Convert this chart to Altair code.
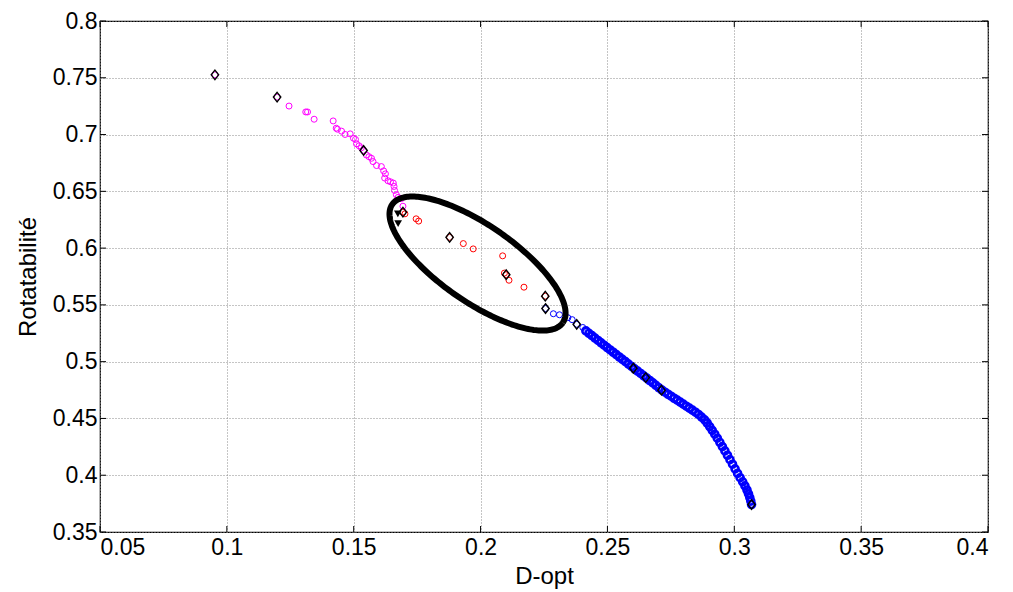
import numpy as np
import pandas as pd
import altair as alt

# ---------------- data ----------------
MAG_X = [0.0953, 0.1198, 0.1245, 0.1311, 0.1318, 0.1344, 0.1419, 0.1431, 0.1436, 0.1452, 0.1466,
         0.1486, 0.1499, 0.1507, 0.1511, 0.1521, 0.1530, 0.1539, 0.1550, 0.1560, 0.1570,
         0.1576, 0.1590, 0.1609, 0.1618, 0.1625, 0.1622, 0.1635, 0.1645, 0.1656, 0.1659,
         0.1661, 0.1668, 0.1675, 0.1688, 0.1694]
MAG_Y = [0.7526, 0.7330, 0.7251, 0.7199, 0.7199, 0.7135, 0.7120, 0.7056, 0.7047, 0.7030, 0.7001,
         0.7006, 0.6968, 0.6957, 0.6918, 0.6901, 0.6883, 0.6860, 0.6820, 0.6805, 0.6791,
         0.6762, 0.6727, 0.6718, 0.6680, 0.6654, 0.6617, 0.6593, 0.6584, 0.6573, 0.6543,
         0.6508, 0.6470, 0.6447, 0.6436, 0.6369]

RED_X = [0.1694, 0.1702, 0.1746, 0.1756, 0.1878, 0.1932, 0.1971, 0.2087, 0.2094, 0.2101,
         0.2112, 0.2171, 0.2255]
RED_Y = [0.6317, 0.6302, 0.6258, 0.6238, 0.6095, 0.6040, 0.5993, 0.5932, 0.5780, 0.5766,
         0.5717, 0.5656, 0.5577]

# sparse start of the blue front
BLUE_X = [0.2256, 0.2287, 0.2311, 0.2344, 0.2361, 0.2379, 0.2403]
BLUE_Y = [0.5468, 0.5422, 0.5413, 0.5387, 0.5370, 0.5329, 0.5301]

# dense part of the blue front (appears as a solid band)
BLUE_DENSE_X = [0.2415, 0.2427, 0.2439, 0.2451, 0.2463, 0.2475, 0.2487, 0.2499, 0.2511, 0.2523,
                0.2535, 0.2547, 0.2559, 0.2571, 0.2583, 0.2595, 0.2607, 0.2619, 0.2631, 0.2643,
                0.2655, 0.2667, 0.2679, 0.2691, 0.2703, 0.2715, 0.2727, 0.2739, 0.2751, 0.2763,
                0.2775, 0.2787, 0.2799, 0.2811, 0.2823, 0.2835, 0.2847, 0.2859, 0.2871, 0.2883,
                0.2893, 0.2903, 0.2913, 0.2923, 0.2933, 0.2943, 0.2953, 0.2963, 0.2973, 0.2983,
                0.2993, 0.3003, 0.3013, 0.3023, 0.3033, 0.3042, 0.3050, 0.3056, 0.3061, 0.3065,
                0.3068]
BLUE_DENSE_Y = [0.5271, 0.5250, 0.5229, 0.5208, 0.5187, 0.5166, 0.5145, 0.5124, 0.5103, 0.5083,
                0.5062, 0.5041, 0.5020, 0.5000, 0.4979, 0.4958, 0.4937, 0.4917, 0.4896, 0.4875,
                0.4855, 0.4834, 0.4813, 0.4792, 0.4770, 0.4750, 0.4731, 0.4713, 0.4696, 0.4678,
                0.4661, 0.4644, 0.4626, 0.4608, 0.4591, 0.4573, 0.4555, 0.4535, 0.4512, 0.4488,
                0.4460, 0.4428, 0.4395, 0.4361, 0.4326, 0.4290, 0.4252, 0.4214, 0.4176, 0.4137,
                0.4097, 0.4056, 0.4016, 0.3978, 0.3942, 0.3906, 0.3870, 0.3836, 0.3803, 0.3772,
                0.3742]

DIA_X = [0.0953, 0.1198, 0.1539, 0.1694, 0.1878, 0.2101, 0.2255, 0.2256, 0.2379, 0.2602,
         0.2651, 0.2713, 0.3068]
DIA_Y = [0.7526, 0.7330, 0.6860, 0.6317, 0.6095, 0.5766, 0.5577, 0.5468, 0.5329, 0.4942,
         0.4860, 0.4749, 0.3742]

TRI_X = [0.1674, 0.1675]
TRI_Y = [0.6302, 0.6215]

# ellipse annotation: centre (data), semi-axes (pixels), tilt (degrees)
ELL_CENTER = [0.1988, 0.5864]
ELL_AXES_PX = [103.8, 38.3]
ELL_ANGLE = 34.75

X_TICKS = [0.05, 0.1, 0.15, 0.2, 0.25, 0.3, 0.35, 0.4]
Y_TICKS = [0.35, 0.4, 0.45, 0.5, 0.55, 0.6, 0.65, 0.7, 0.75, 0.8]

# ---------------- chart ----------------
W, H = 888, 511
FONT = "Liberation Sans"

xs = alt.Scale(domain=[0.05, 0.4], nice=False, zero=False)
ys = alt.Scale(domain=[0.35, 0.8], nice=False, zero=False)

xax = alt.Axis(values=X_TICKS, format=".2~f", title="D-opt", grid=True, labelPadding=4,
               titleY=51, titleBaseline="alphabetic")
yax = alt.Axis(values=Y_TICKS, format=".2~f", title="Rotatabilité", grid=True, labelPadding=3,
               titleX=-65, titleBaseline="alphabetic")


def pts(xv, yv):
    return pd.DataFrame({"x": xv, "y": yv})


base_x = alt.X("x:Q", scale=xs, axis=xax)
base_y = alt.Y("y:Q", scale=ys, axis=yax)

blue = alt.Chart(pts(BLUE_X, BLUE_Y)).mark_point(
    shape="circle", filled=False, color="#0000ff", size=36, strokeWidth=1, opacity=1
).encode(x=base_x, y=base_y)

blue_dense = alt.Chart(pts(BLUE_DENSE_X, BLUE_DENSE_Y)).mark_point(
    shape="circle", filled=False, color="#0000ff", size=49, strokeWidth=2.6, opacity=1
).encode(x="x:Q", y="y:Q")

mag = alt.Chart(pts(MAG_X, MAG_Y)).mark_point(
    shape="circle", filled=False, color="#ff00ff", size=36, strokeWidth=1, opacity=1
).encode(x="x:Q", y="y:Q")

red = alt.Chart(pts(RED_X, RED_Y)).mark_point(
    shape="circle", filled=False, color="#ff0000", size=36, strokeWidth=1, opacity=1
).encode(x="x:Q", y="y:Q")

# ellipse outline
t = np.linspace(0, 2 * np.pi, 241)
th = np.deg2rad(ELL_ANGLE)
a, b = ELL_AXES_PX
dxp = a * np.cos(t) * np.cos(th) - b * np.sin(t) * np.sin(th)
dyp = a * np.cos(t) * np.sin(th) + b * np.sin(t) * np.cos(th)
ell_df = pd.DataFrame({
    "x": ELL_CENTER[0] + dxp * 0.35 / W,
    "y": ELL_CENTER[1] - dyp * 0.45 / H,
    "o": np.arange(len(t)),
})
ellipse = alt.Chart(ell_df).mark_line(color="black", strokeWidth=6).encode(
    x="x:Q", y="y:Q", order="o:Q"
)

dia = alt.Chart(pts(DIA_X, DIA_Y)).mark_point(
    shape="M0,-1L0.78,0L0,1L-0.78,0Z", filled=False, color="black", size=90,
    strokeWidth=1.4, opacity=1
).encode(x="x:Q", y="y:Q")

tri = alt.Chart(pts(TRI_X, TRI_Y)).mark_point(
    shape="triangle-down", filled=True, color="black", size=60, opacity=1
).encode(x="x:Q", y="y:Q")

# inward ticks on all four sides
xt = pd.DataFrame({"v": X_TICKS})
yt = pd.DataFrame({"v": Y_TICKS})
tick_b = alt.Chart(xt).mark_rule(color="black", strokeWidth=1).encode(
    x=alt.X("v:Q", scale=xs), y=alt.value(H), y2=alt.value(H - 6))
tick_t = alt.Chart(xt).mark_rule(color="black", strokeWidth=1).encode(
    x=alt.X("v:Q", scale=xs), y=alt.value(0), y2=alt.value(6))
tick_l = alt.Chart(yt).mark_rule(color="black", strokeWidth=1).encode(
    y=alt.Y("v:Q", scale=ys), x=alt.value(0), x2=alt.value(6))
tick_r = alt.Chart(yt).mark_rule(color="black", strokeWidth=1).encode(
    y=alt.Y("v:Q", scale=ys), x=alt.value(W), x2=alt.value(W - 6))

chart = alt.layer(
    blue, blue_dense, mag, red, ellipse, dia, tri, tick_b, tick_t, tick_l, tick_r
).properties(
    width=W, height=H,
    autosize=alt.AutoSizeParams(type="none"),
    padding={"left": 92, "top": 13, "right": 17, "bottom": 58},
    background="white",
).configure_view(
    stroke="black", strokeWidth=1.2
).configure_axis(
    labelFont=FONT, labelFontSize=23, labelColor="black",
    titleFont=FONT, titleFontSize=24, titleFontWeight="normal", titleColor="black",
    ticks=False, domain=False,
    gridColor="#8a8a8a", gridDash=[1, 2], gridWidth=1, gridOpacity=1,
)

chart.save("out.html", embed_options={"renderer": "svg", "actions": False})
